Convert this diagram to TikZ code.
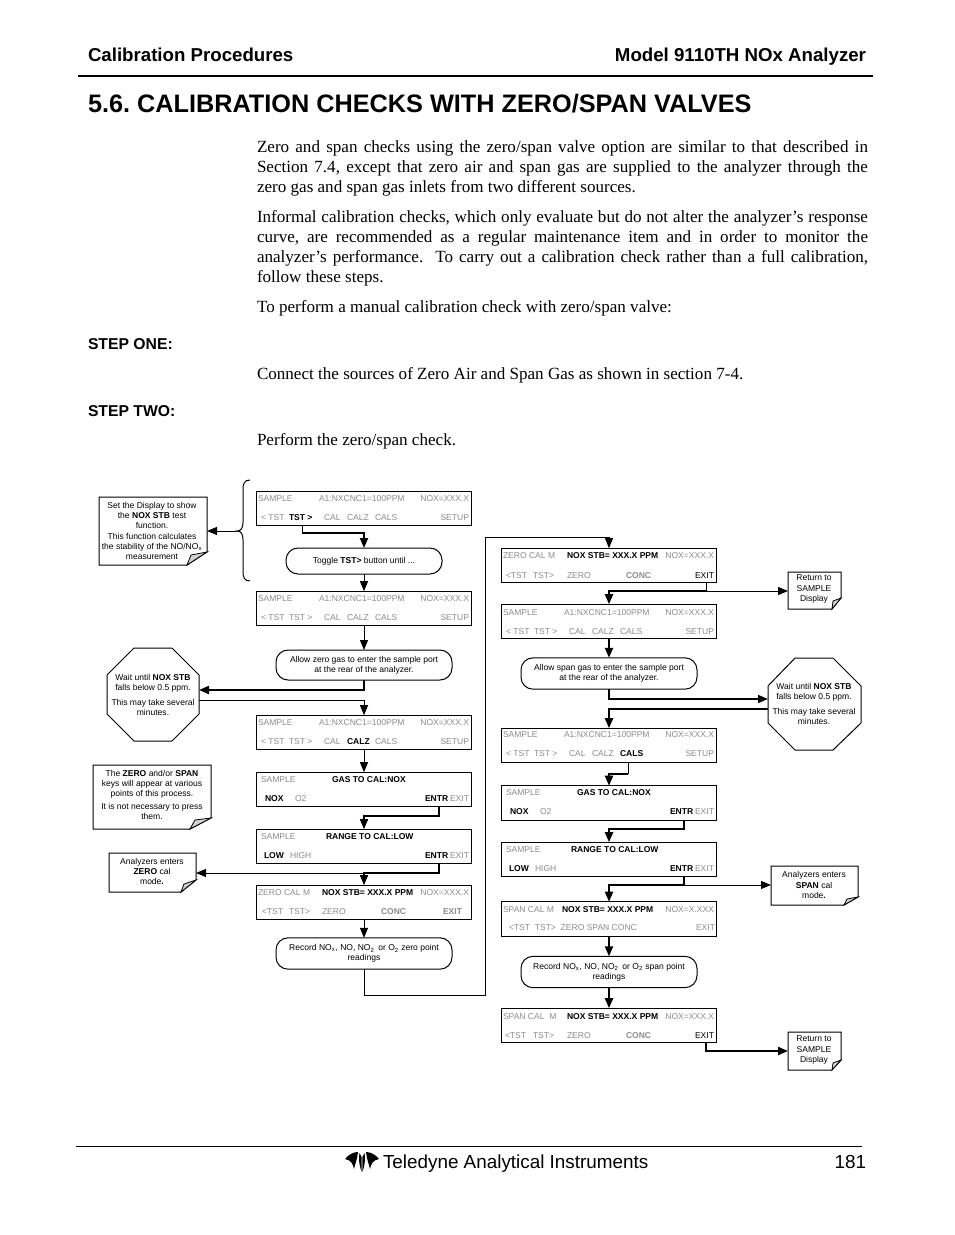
\documentclass[tikz,border=0pt]{standalone}
\usepackage{fontspec}
\setmainfont{Liberation Sans}
\newfontfamily\bodyfont{Liberation Serif}
\usetikzlibrary{arrows.meta}
\definecolor{dgray}{gray}{0.55}
\newcounter{tc}
\tikzset{
  x=0.75pt,y=-0.75pt,
  every node/.style={inner sep=0pt,outer sep=0pt},
  lcd/.style={draw=black,line width=0.75pt,fill=white,minimum width=161.25pt,minimum height=26pt},
  pill/.style={draw=black,line width=0.75pt,fill=white,rounded corners=9pt,minimum width=132pt,align=center,font=\fontsize{6.4}{7.6}\selectfont},
  notebox/.style={draw=black,line width=0.75pt,fill=white},
  foldbox/.style={draw=black,line width=0.6pt,fill=black!18},
  notetext/.style={align=center,font=\fontsize{6.4}{7.65}\selectfont},
  thin arrow/.style={line width=0.75pt,-{Triangle[length=7.5pt,width=6pt]}},
  mid arrow/.style={line width=1.15pt,-{Triangle[length=7.5pt,width=6pt]}},
  thick arrow/.style={line width=1.6pt,-{Triangle[length=7.5pt,width=6pt]}},
  thin line/.style={line width=0.75pt},
  hdr/.style={font=\fontsize{14}{16}\bfseries\selectfont,anchor=base west},
  steplabel/.style={font=\fontsize{11.8}{13}\bfseries\selectfont,anchor=base west},
  para/.style={text width=458.25pt,align=justify,anchor=base west,font=\fontsize{12.8}{15}\bodyfont\selectfont},
}
\newcommand{\lcdtext}[4]{\stepcounter{tc}\node[#1,name=t\arabic{tc},yshift=-0.75pt,font=\fontsize{6.4}{7}\selectfont#4] at (#2) {#3};}
\newcommand{\gt}[2]{\lcdtext{anchor=west,text=dgray}{#1}{#2}{}}
\newcommand{\gr}[2]{\lcdtext{anchor=east,text=dgray}{#1}{#2}{}}
\newcommand{\gb}[2]{\lcdtext{anchor=west,text=dgray}{#1}{#2}{\bfseries}}
\newcommand{\bt}[2]{\lcdtext{anchor=west,text=black}{#1}{#2}{\bfseries}}
\newcommand{\rt}[2]{\lcdtext{anchor=west,text=black}{#1}{#2}{}}
\newcommand{\lcd}[3]{\node[lcd] (#1) at (#2,#3) {};}
\newcommand{\samplerows}[2]{%
  \gt{#1+2,#2+7}{SAMPLE}\gt{#1+63,#2+7}{A1:NXCNC1=100PPM}\gr{#1+213,#2+7}{NOX=XXX.X}%
  \gr{#1+213,#2+26}{SETUP}}
\begin{document}
\frenchspacing
\begin{tikzpicture}
\useasboundingbox (0,0) rectangle (954,1235);
\fill[white] (0,0) rectangle (954,1235);
% header
\node[hdr] (h1) at (88,61) {Calibration Procedures};
\node[hdr,anchor=base east] (h2) at (866,61) {Model 9110TH NOx Analyzer};
\draw[line width=1.2pt] (78,76) -- (873,76);
\node[anchor=base west,font=\fontsize{18.95}{24}\bfseries\selectfont] (title) at (88,112) {5.6. CALIBRATION CHECKS WITH ZERO/SPAN VALVES};
\node[para] (p1) at (257,152) {Zero and span checks using the zero/span valve option are similar to that described in\linebreak Section 7.4, except that zero air and span gas are supplied to the analyzer through the\linebreak zero gas and span gas inlets from two different sources.};
\node[para] (p2) at (257,222) {Informal calibration checks, which only evaluate but do not alter the analyzer’s response\linebreak curve, are recommended as a regular maintenance item and in order to monitor the\linebreak analyzer’s performance.\ \ To carry out a calibration check rather than a full calibration,\linebreak follow these steps.};
\node[para] (p3) at (257,312) {To perform a manual calibration check with zero/span valve:};
\node[steplabel] (s1) at (88,349) {STEP ONE:};
\node[para] (p4) at (257,379) {Connect the sources of Zero Air and Span Gas as shown in section 7-4.};
\node[steplabel] (s2) at (88,416) {STEP TWO:};
\node[para] (p5) at (257,445) {Perform the zero/span check.};
% left column displays
\lcd{d1}{363.5}{508.5}\lcd{d2}{363.5}{608.5}\lcd{d3}{363.5}{732.5}\lcd{d4}{363.5}{789.5}\lcd{d5}{363.5}{846.5}\lcd{d6}{363.5}{902.5}
\node[pill,minimum width=117pt,minimum height=19.5pt] (tog) at (364,561) {Toggle \textbf{TST>} button until ...};
\node[pill,minimum height=22.5pt] (allowz) at (364,665) {Allow zero gas to enter the sample port\\at the rear of the analyzer.};
\node[pill,minimum height=23.5pt] (recz) at (364,953.5) {Record NO\textsubscript{x}, NO, NO\textsubscript{2}\, or O\textsubscript{2} zero point\\readings};
% right column displays
\lcd{r1}{608.5}{565.5}\lcd{r2}{608.5}{621.5}\lcd{r3}{608.5}{745.5}\lcd{r4}{608.5}{803}\lcd{r5}{608.5}{859.5}\lcd{r6}{608.5}{919}\lcd{r7}{608.5}{1025.5}
\node[pill,minimum height=23.5pt] (allows) at (609,673.5) {Allow span gas to enter the sample port\\at the rear of the analyzer.};
\node[pill,minimum height=23.5pt] (recs) at (609,972) {Record NO\textsubscript{x}, NO, NO\textsubscript{2}\, or O\textsubscript{2} span point\\readings};
% texts D1-D3
\samplerows{256}{491}\gt{261,517}{< TST}\bt{289,517}{TST >}\gt{324,517}{CAL}\gt{347,517}{CALZ}\gt{375,517}{CALS}
\samplerows{256}{591}\gt{261,617}{< TST}\gt{289,617}{TST >}\gt{324,617}{CAL}\gt{347,617}{CALZ}\gt{375,617}{CALS}
\samplerows{256}{715}\gt{261,741}{< TST}\gt{289,741}{TST >}\gt{324,741}{CAL}\bt{347,741}{CALZ}\gt{375,741}{CALS}
% D4
\gt{261,779}{SAMPLE}\bt{332,779}{GAS TO CAL:NOX}\bt{265,798}{NOX}\gt{295,798}{O2}\bt{425,798}{ENTR}\gt{450,798}{EXIT}
% D5
\gt{261,836}{SAMPLE}\bt{326,836}{RANGE TO CAL:LOW}\bt{264,855}{LOW}\gt{290,855}{HIGH}\bt{425,855}{ENTR}\gt{450,855}{EXIT}
% D6
\gt{258,892}{ZERO CAL M}\bt{322,892}{NOX STB= XXX.X PPM}\gr{469,892}{NOX=XXX.X}\gt{262,911}{<TST}\gt{289,911}{TST>}\gt{322,911}{ZERO}\gb{381,911}{CONC}\gb{443,911}{EXIT}
% R1
\gt{503,555}{ZERO CAL M}\bt{567,555}{NOX STB= XXX.X PPM}\gr{714,555}{NOX=XXX.X}\gt{506,575}{<TST}\gt{533,575}{TST>}\gt{567,575}{ZERO}\gb{626,575}{CONC}\rt{695,575}{EXIT}
% R2,R3
\samplerows{501}{604.5}\gt{506,630.5}{< TST}\gt{534,630.5}{TST >}\gt{569,630.5}{CAL}\gt{592,630.5}{CALZ}\gt{620,630.5}{CALS}
\samplerows{501}{727}\gt{506,753}{< TST}\gt{534,753}{TST >}\gt{569,753}{CAL}\gt{592,753}{CALZ}\bt{620,753}{CALS}
% R4
\gt{506,792}{SAMPLE}\bt{577,792}{GAS TO CAL:NOX}\bt{510,811}{NOX}\gt{540,811}{O2}\bt{670,811}{ENTR}\gt{695,811}{EXIT}
% R5
\gt{506,849}{SAMPLE}\bt{571,849}{RANGE TO CAL:LOW}\bt{509,868}{LOW}\gt{535,868}{HIGH}\bt{670,868}{ENTR}\gt{695,868}{EXIT}
% R6
\gt{503,909}{SPAN CAL M}\bt{562,909}{NOX STB= XXX.X PPM}\gr{714,909}{NOX=X.XXX}\gt{509,927}{<TST\ \ TST>\ \ ZERO SPAN CONC}\gt{696,927}{EXIT}
% R7
\gt{503,1016}{SPAN CAL\ \ M}\bt{567,1016}{NOX STB= XXX.X PPM}\gr{714,1016}{NOX=XXX.X}\gt{505,1035}{<TST}\gt{533,1035}{TST>}\gt{567,1035}{ZERO}\gb{626,1035}{CONC}\rt{695,1035}{EXIT}
% notes
\draw[notebox] (99,497) -- (207,497) -- (207,552) -- (187,565) -- (99,565) -- cycle;
\draw[foldbox] (207,552) -- (187,565) -- (191,555) -- cycle;
\coordinate (n1) at (207,531);
\node[notetext] (n1t) at (152,531) {Set the Display to show\\the \textbf{NOX STB} test\\function.\\This function calculates\\the stability of the NO/NO\textsubscript{x}\\measurement};
\draw[notebox] (93,765) -- (211,765) -- (211,818) -- (190,829) -- (93,829) -- cycle;
\draw[foldbox] (211,818) -- (190,829) -- (195,820) -- cycle;
\node[notetext] (n2t) at (152,795) {The \textbf{ZERO} and/or \textbf{SPAN}\\keys will appear at various\\points of this process.\\[2pt]It is not necessary to press\\them.};
\draw[notebox] (109,853) -- (196,853) -- (196,880) -- (181,892) -- (109,892) -- cycle;
\draw[foldbox] (196,880) -- (181,892) -- (184,884) -- cycle;
\node[notetext] (n3t) at (152,871.5) {Analyzers enters\\\textbf{ZERO} cal\\mode\textbf{.}};
\coordinate (n3) at (196,873);
\draw[notebox] (788,572) -- (841,572) -- (841,598) -- (832,609) -- (788,609) -- cycle;
\draw[foldbox] (841,598) -- (832,609) -- (833,601) -- cycle;
\node[notetext] (n4t) at (814,589) {Return to\\SAMPLE\\Display};
\draw[notebox] (771,866) -- (858,866) -- (858,897) -- (844,905) -- (771,905) -- cycle;
\draw[foldbox] (858,897) -- (844,905) -- (847,899) -- cycle;
\node[notetext] (n5t) at (814,885) {Analyzers enters\\\textbf{SPAN} cal\\mode\textbf{.}};
\draw[notebox] (788,1032) -- (841,1032) -- (841,1060) -- (832,1070) -- (788,1070) -- cycle;
\draw[foldbox] (841,1060) -- (832,1070) -- (833,1063) -- cycle;
\node[notetext] (n6t) at (814,1050) {Return to\\SAMPLE\\Display};
% octagons
\draw[notebox] (134,648) -- (172,648) -- (199,675) -- (199,714) -- (172,741) -- (134,741) -- (107,714) -- (107,675) -- cycle;
\node[notetext] (o1t) at (153,695) {Wait until \textbf{NOX STB}\\falls below 0.5 ppm.\\[3pt]This may take several\\minutes.};
\draw[notebox] (795,658) -- (833,658) -- (861,686) -- (861,723) -- (833,750) -- (795,750) -- (768,723) -- (768,686) -- cycle;
\node[notetext] (o2t) at (814,704) {Wait until \textbf{NOX STB}\\falls below 0.5 ppm.\\[3pt]This may take several\\minutes.};
% brace
\draw[thin line] (250,480) .. controls (244,480) and (243,484) .. (243,490) -- (243,522) .. controls (243,528) and (241,531) .. (237,531) .. controls (241,531) and (243,534) .. (243,540) -- (243,571) .. controls (243,577) and (244,581) .. (250,581);
\coordinate (brace) at (237,531);
\draw[thin arrow] (brace) -- (n1);
% left connectors
\draw[thin line] (302,0 |- d1.south) -- (302,533);
\draw[thick arrow] (302,533) -| (tog.north);
\draw[thin arrow] (tog.south) -- (d2.north -| tog.south);
\draw[thin arrow] (d2.south -| allowz.north) -- (allowz.north);
\coordinate (o1r) at (199,690);
\coordinate (o1s) at (199,700);
\draw[thick arrow] (allowz.south) |- (o1r);
\draw[thin arrow] (o1s) -| (d3.north -| allowz.north);
\draw[thin arrow] (d3.south -| allowz.north) -- (d4.north -| allowz.north);
\draw[mid arrow] (439,0 |- d4.south) |- (364,816) -- (d5.north -| allowz.north);
\draw[mid arrow] (439,0 |- d5.south) |- (364,873) -- (d6.north -| allowz.north);
\draw[thin arrow] (439,873) -- (n3);
\draw[thin arrow] (d6.south -| recz.north) -- (recz.north);
% loop
\draw[thin arrow] (recz.south) -- (364,995) -- (485,995) -- (485,537) -- (609,537) -- (r1.north -| recs.north);
% right connectors
\coordinate (n4) at (788,591);
\draw[thin line] (706,0 |- r1.south) -- (706,591);
\draw[thick arrow] (706,591) -| (r2.north -| recs.north);
\draw[thin arrow] (706,591) -- (n4);
\draw[thick arrow] (r2.south -| recs.north) -- (allows.north);
\coordinate (o2a) at (768,699);
\coordinate (o2b) at (768,709);
\draw[mid arrow] (allows.south) |- (o2a);
\draw[thick arrow] (o2b) -| (r3.north -| recs.north);
\draw[thin line] (628,0 |- r3.south) -- (628,774);
\draw[thick arrow] (628,774) -| (r4.north -| recs.north);
\draw[thick arrow] (684,0 |- r4.south) |- (609,829) -- (r5.north -| recs.north);
\draw[thick arrow] (684,0 |- r5.south) |- (609,885) -- (r6.north -| recs.north);
\coordinate (n5) at (771,885);
\draw[thin arrow] (684,885) -- (n5);
\draw[thick arrow] (r6.south -| recs.north) -- (recs.north);
\draw[thick arrow] (recs.south) -- (r7.north -| recs.north);
\coordinate (n6) at (788,1051);
\draw[thick arrow] (706,0 |- r7.south) |- (n6);
% footer
\draw[line width=0.9pt] (76,1146.5) -- (862,1146.5);
\fill (345,1159) .. controls (349,1154) and (354,1152) .. (358,1152) -- (357,1158) .. controls (356,1162) and (355,1165) .. (354,1169) .. controls (353,1164) and (351,1160) .. (345,1159) -- cycle;
\fill (379,1159) .. controls (375,1154) and (370,1152) .. (366,1152) -- (367,1158) .. controls (368,1162) and (369,1165) .. (370,1169) .. controls (371,1164) and (373,1160) .. (379,1159) -- cycle;
\fill (361.6,1172) .. controls (359,1165) and (358.5,1158) .. (359.5,1153) -- (361.6,1157) -- cycle;
\fill (362.4,1172) .. controls (365,1165) and (365.5,1158) .. (364.5,1153) -- (362.4,1157) -- cycle;
\node[anchor=base west,font=\fontsize{14.15}{16}\selectfont] (foot) at (383,1168) {Teledyne Analytical Instruments};
\node[anchor=base east,font=\fontsize{14.15}{16}\selectfont] (page) at (866,1168) {181};
\end{tikzpicture}
\end{document}
